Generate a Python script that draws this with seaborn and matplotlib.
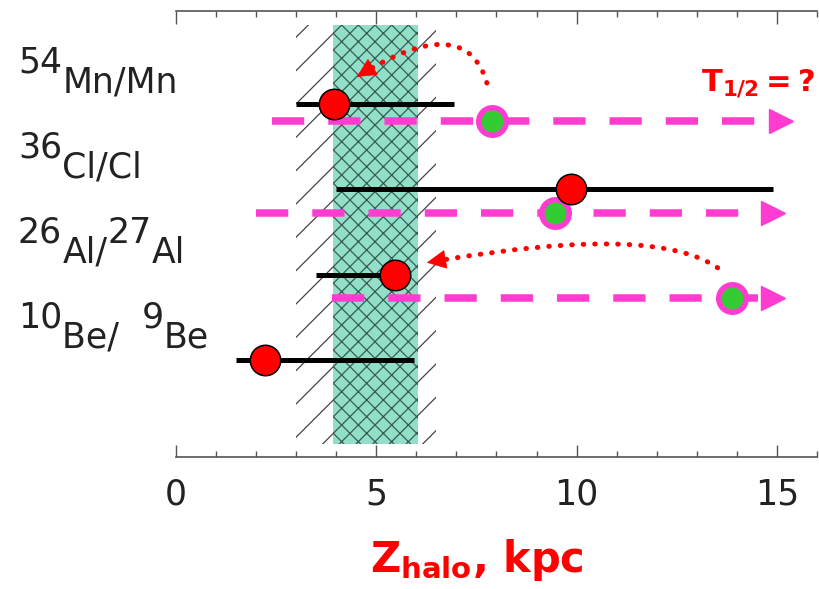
import math
import matplotlib
matplotlib.use("Agg")
import matplotlib.pyplot as plt
from matplotlib.ticker import MultipleLocator
import seaborn as sns
import pandas as pd

# --- data ---
ratio_parts = [
    [("54", True), ("Mn/Mn", False)],
    [("36", True), ("Cl/Cl", False)],
    [("26", True), ("Al/", False), ("27", True), ("Al", False)],
    [("10", True), ("Be/  ", False), ("9", True), ("Be", False)],
]
row_y = [1, 2, 3, 4]
zhalo_best = [3.95, 9.87, 5.46, 2.22]   # red points
zhalo_lo = [3.0, 4.0, 3.5, 1.5]
zhalo_hi = [6.95, 14.9, 5.5, 5.95]

# magenta dashed arrows (first three ratios)
pred_best = [7.9, 9.45, 13.87]          # green points
pred_start = [2.4, 2.0, 3.9]
pred_tip = [15.4, 15.2, 15.2]
pred_offset = [0.2, 0.28, 0.27]

band_hatch = (3.0, 6.5)
band_teal = (3.92, 6.03)

sns.set_style("white")
plt.rcParams["font.family"] = ["DejaVu Sans"]
plt.rcParams["mathtext.fontset"] = "dejavusans"
plt.rcParams["hatch.linewidth"] = 0.9

PINK = "#ff3cd2"
RED = "#ff0000"
GREEN = "#33cc33"

fig = plt.figure(figsize=(8.2, 5.89), dpi=100)
ax = fig.add_axes([176 / 820, 1 - 457 / 589, 641 / 820, 446.5 / 589])
ax.set_xlim(0, 16)
ax.set_ylim(5.138, -0.096)

# bands
ax.axvspan(*band_hatch, ymin=0.03, ymax=0.967, facecolor="none",
           edgecolor="#444444", hatch="/", lw=0, zorder=1)
ax.axvspan(*band_teal, ymin=0.03, ymax=0.967, facecolor="#86dcc4",
           edgecolor="#2f4f45", hatch="xx", lw=0, alpha=0.9, zorder=2)

# error bars (black)
ax.hlines(row_y, zhalo_lo, zhalo_hi, color="black", lw=3.6, zorder=3)

# magenta dashed lines with arrow heads
pred_y = [r + o for r, o in zip(row_y[:3], pred_offset)]
for y, x0, tip in zip(pred_y, pred_start, pred_tip):
    ax.plot([x0, tip - 0.57], [y, y], color=PINK, lw=5.4,
            dashes=(4.3, 3.2), zorder=4)
    ax.plot([tip - 0.29], [y], marker=">", ms=17, color=PINK,
            mec=PINK, zorder=4)

df_pred = pd.DataFrame({"z": pred_best, "y": pred_y})
sns.scatterplot(data=df_pred, x="z", y="y", s=390, color=GREEN,
                edgecolor=PINK, linewidth=4, zorder=5, ax=ax, legend=False)

df_obs = pd.DataFrame({"z": zhalo_best, "y": row_y})
sns.scatterplot(data=df_obs, x="z", y="y", s=480, color=RED,
                edgecolor="black", linewidth=1.1, zorder=6, ax=ax, legend=False)


# red dotted curved arrows: dotted body + solid head
def curved_arrow(tip, tail, ang_a, ang_b):
    ax.annotate("", xy=tip, xytext=tail,
                arrowprops=dict(arrowstyle="-", color=RED, lw=3.6,
                                connectionstyle=f"angle3,angleA={ang_a},angleB={ang_b}",
                                linestyle=(0, (0.1, 2.2)), capstyle="round",
                                shrinkA=0, shrinkB=12),
                zorder=7)
    L = 13
    ax.annotate("", xy=tip,
                xytext=(L * math.cos(math.radians(ang_b)), L * math.sin(math.radians(ang_b))),
                textcoords="offset points",
                arrowprops=dict(arrowstyle="-|>,head_length=0.65,head_width=0.32",
                                color=RED, lw=0.5, shrinkA=0, shrinkB=0,
                                mutation_scale=20),
                zorder=7)


curved_arrow((4.51, 0.683), (7.76, 0.754), 106, 32)
curved_arrow((6.26, 2.86), (13.52, 2.92), 145, 10)

ax.text(13.1, 0.836, r"$\mathbf{T_{1/2}=?}$", color=RED, fontsize=22,
        ha="left", va="baseline")

# axes styling
for side in ["left", "right"]:
    ax.spines[side].set_visible(False)
for side in ["top", "bottom"]:
    ax.spines[side].set_color("#555555")
    ax.spines[side].set_linewidth(1.2)
ax.set_yticks([])
ax.set_xticks([0, 5, 10, 15])
ax.xaxis.set_minor_locator(MultipleLocator(1))
ax.tick_params(axis="x", which="both", direction="in", top=True, bottom=True,
               labeltop=False, colors="#555555", width=1)
ax.tick_params(axis="x", which="major", length=9, pad=15, labelsize=25,
               labelcolor="#222222")
ax.tick_params(axis="x", which="minor", length=4.5)
ax.set_ylabel("")
ax.set_xlabel(r"$\mathbf{Z_{halo}}$, kpc", color=RED, fontsize=30,
              fontweight="bold")
ax.xaxis.set_label_coords(0.47, -0.18)

# row labels with full-size raised mass numbers
renderer = fig.canvas.get_renderer()
for parts, r in zip(ratio_parts, row_y):
    x = 18
    for txt, raised in parts:
        t = ax.annotate(txt, xy=(x, r - 0.14), xycoords=("figure pixels", "data"),
                        xytext=(0, 14.4 if raised else 0), textcoords="offset points",
                        ha="left", va="baseline", fontsize=25, color="#222222",
                        annotation_clip=False)
        x = t.get_window_extent(renderer).x1

fig.savefig("out.png", dpi=100)
